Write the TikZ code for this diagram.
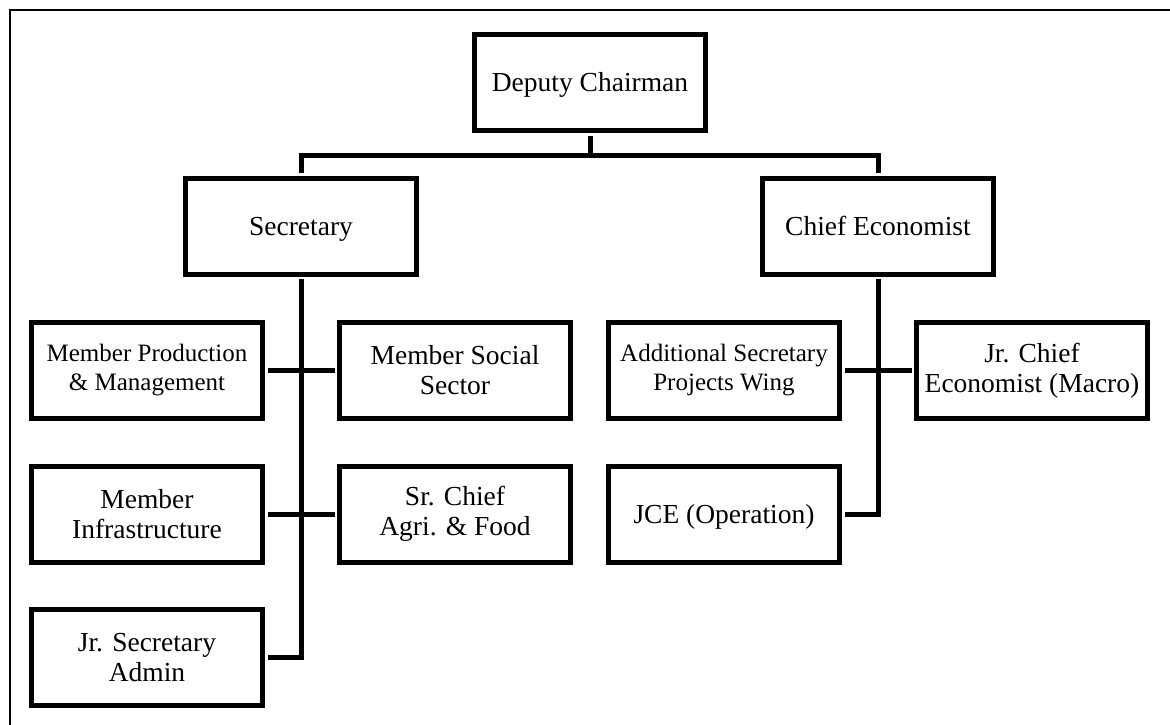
\documentclass[tikz,border=0pt]{standalone}
\usepackage{fontspec}
\setmainfont{Liberation Serif}
\begin{document}
\begin{tikzpicture}[x=1pt,y=-1pt,
  box/.style={draw, line width=5pt, minimum width=231pt, minimum height=96pt, inner sep=2pt, align=center, font=\fontsize{27.5}{30}\selectfont},
  onebox/.style={box, text height=18pt, text depth=0pt},
  smallbox/.style={box, font=\fontsize{25}{29}\selectfont},
  link/.style={line width=5pt, shorten <=2.5pt, shorten >=2.5pt}]
\useasboundingbox (0,0) rectangle (1170,725);
\fill[white] (0,0) rectangle (1170,725);
\begin{scope}
\clip (0,0) rectangle (1170,725);
\draw[line width=2pt] (10,10) rectangle (1200,760);
\end{scope}

\node[onebox] (dc) at (590,82.5) {Deputy Chairman};
\node[onebox] (sec) at (301,226) {Secretary};
\node[onebox] (ce) at (878,226) {Chief Economist};

\node[smallbox] (mp) at (147,370.5) {Member Production\\\& Management};
\node[box] (ms) at (455,370.5) {Member Social\\Sector};
\node[box] (mi) at (147,514) {Member\\Infrastructure};
\node[box] (sc) at (455,514) {Sr. Chief\\Agri. \& Food};
\node[box] (js) at (147,657.5) {Jr. Secretary\\Admin};

\node[smallbox] (as) at (724,370.5) {Additional Secretary\\Projects Wing};
\node[box] (jc) at (1032,370.5) {Jr. Chief\\Economist (Macro)};
\node[onebox] (jce) at (724,514) {JCE (Operation)};

\coordinate (bus) at (0,155.5);
\draw[link, shorten >=0pt] (dc.south) -- (dc.south |- bus);
\draw[link] (sec.north) -- (sec.north |- bus) -- (ce.north |- bus) -- (ce.north);

\draw[link] (sec.south) |- (js.east);
\draw[link] (mp.east) -- (ms.west);
\draw[link] (mi.east) -- (sc.west);

\draw[link] (ce.south) |- (jce.east);
\draw[link] (as.east) -- (jc.west);
\end{tikzpicture}
\end{document}
